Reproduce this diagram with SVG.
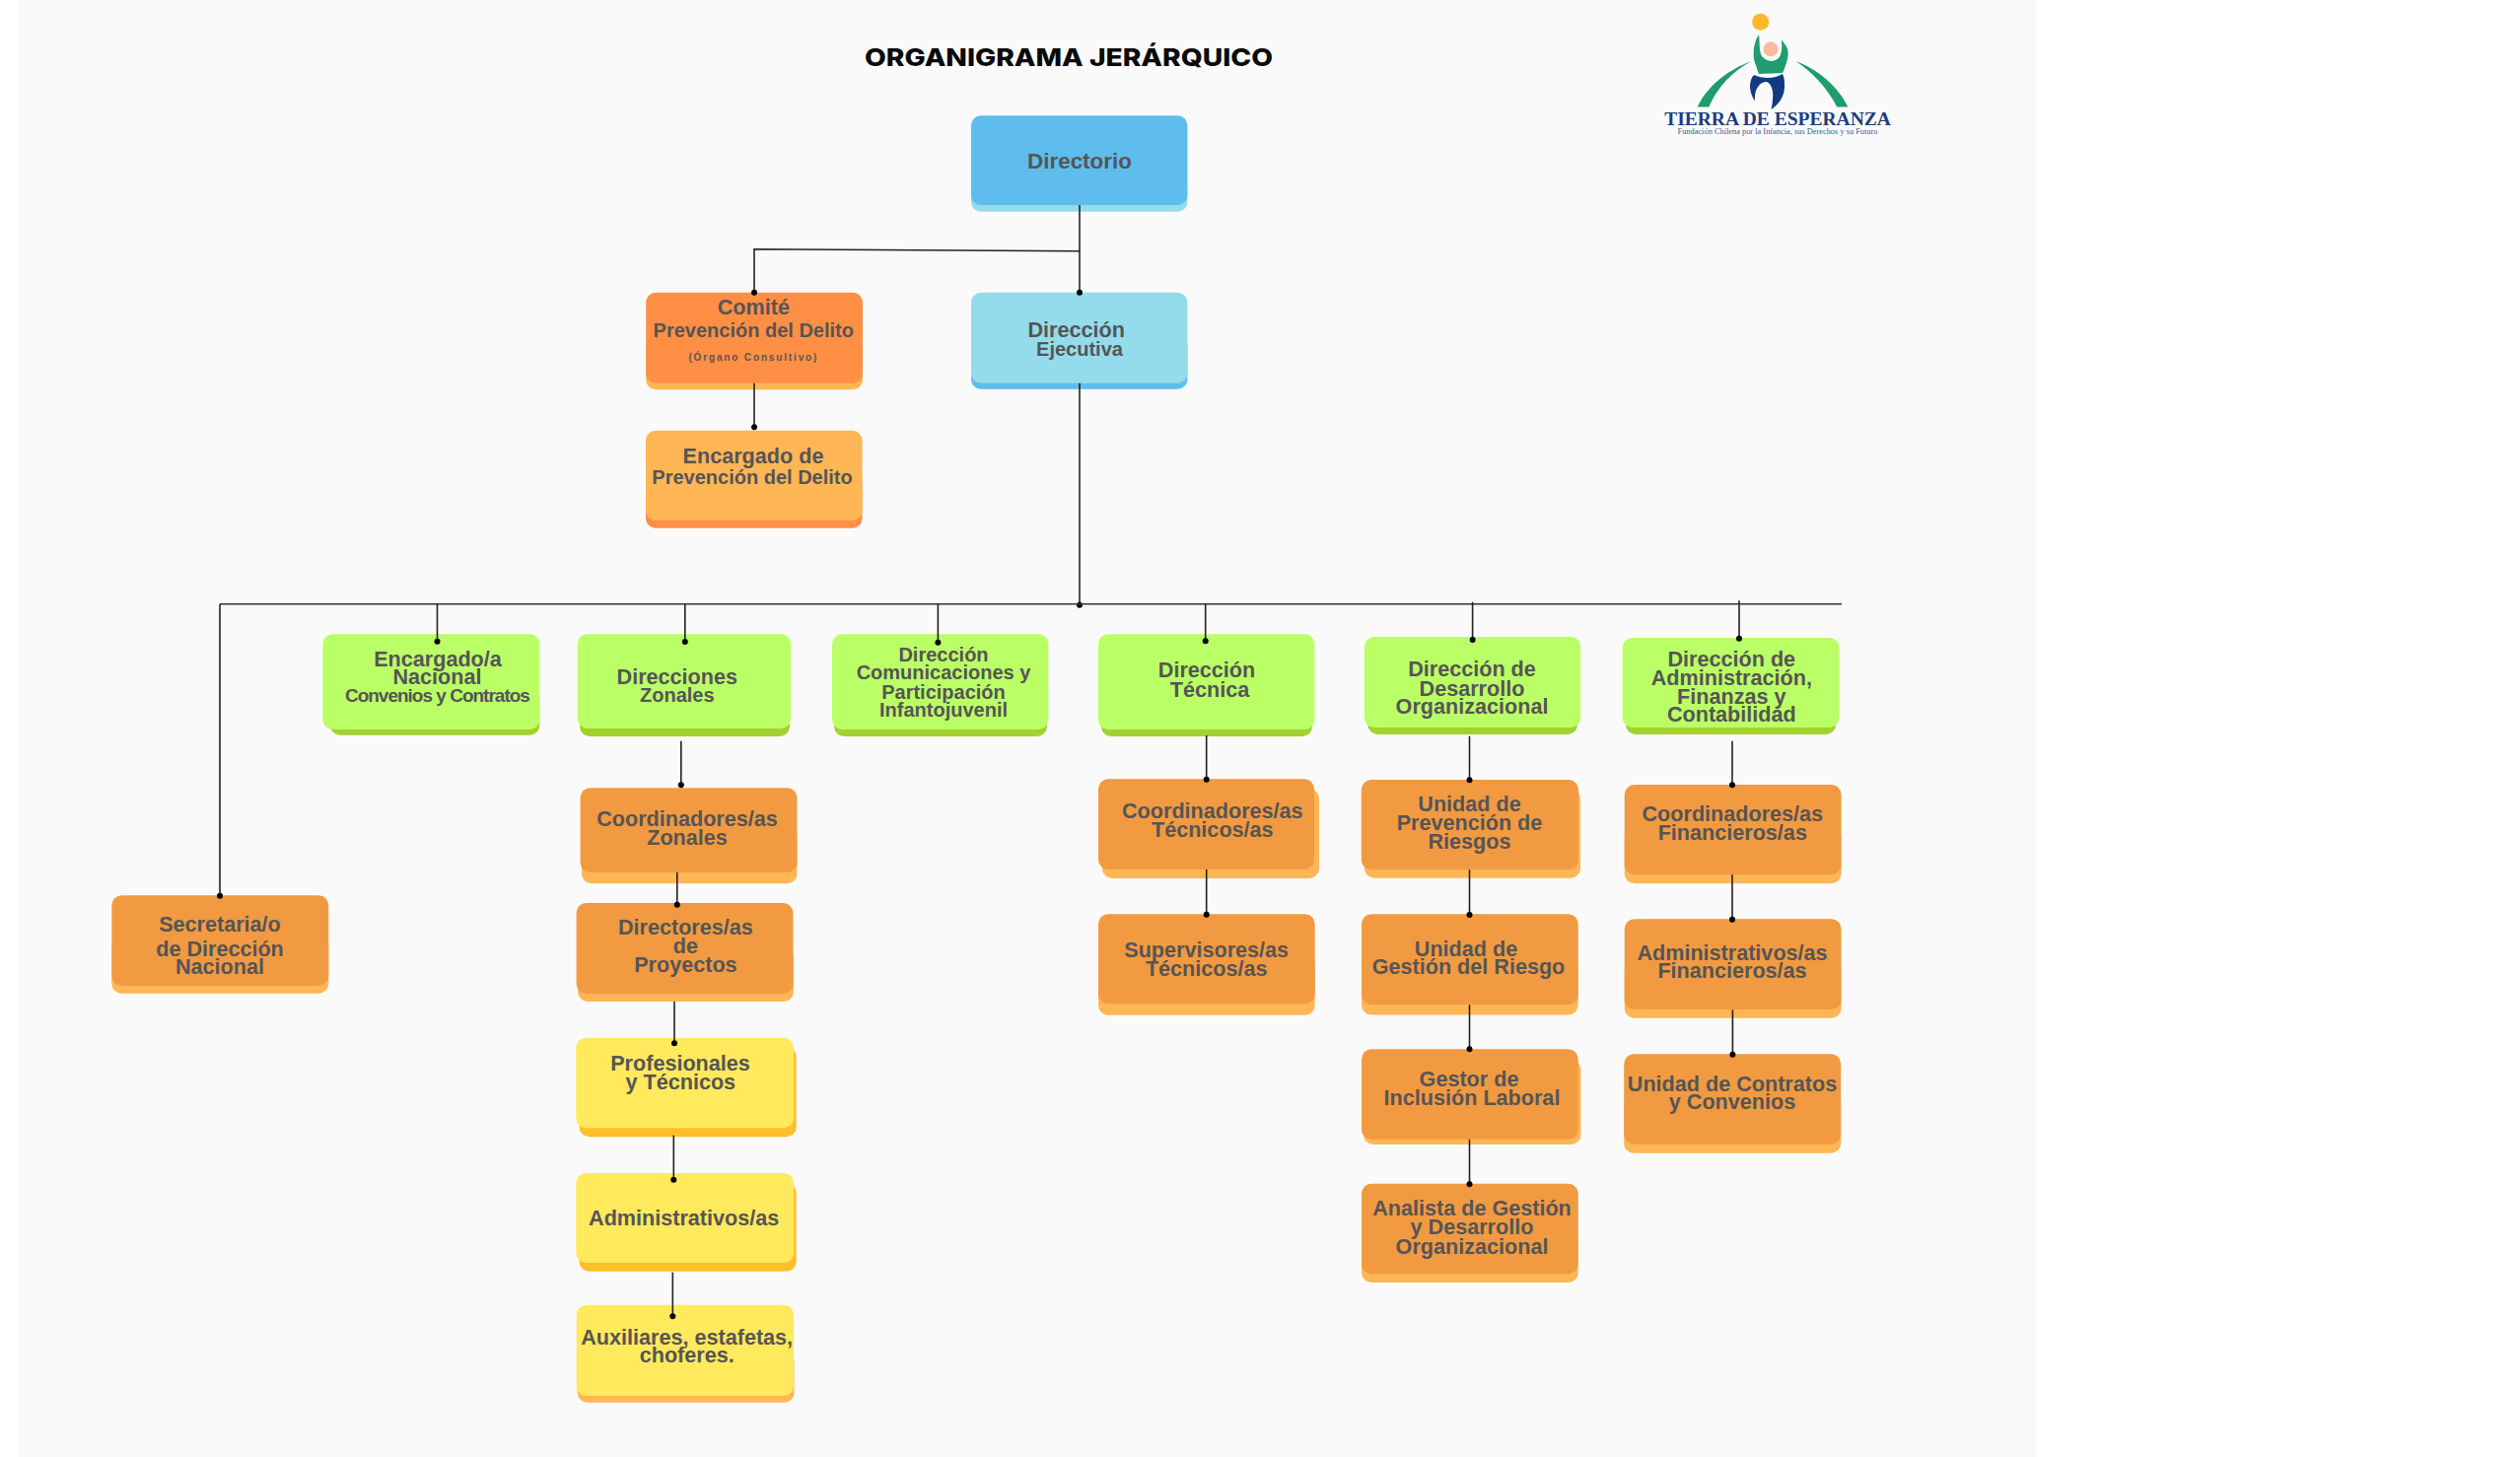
<svg xmlns="http://www.w3.org/2000/svg" width="2556" height="1478" viewBox="0 0 2556 1478">
<style>
text{font-family:"Liberation Sans",Arial,sans-serif;font-weight:700;fill:#555;text-anchor:middle;font-size:21.6px;transform:translateY(.5px)}
.s20{font-size:20px}
.sky{fill:#5ebdec}.lsky{fill:#94dcec}.red{fill:#ff8f45}.lor{fill:#ffb655}.grn{fill:#bbff66}.dgr{fill:#a3d130}.org{fill:#f29a41}.yel{fill:#ffe95c}.dye{fill:#ffbf2b}
.c{fill:none;stroke:#222;stroke-width:1.6;marker-end:url(#dot)}
.b{fill:none;stroke:#333;stroke-width:1.6}
</style>
<defs>
<marker id="dot" markerUnits="userSpaceOnUse" markerWidth="8" markerHeight="8" refX="4" refY="4" orient="auto"><circle cx="4" cy="4" r="3" fill="#000"/></marker>
</defs>
<rect width="2556" height="1478" fill="#fff"/>
<rect x="18" y="0" width="2047" height="1478" fill="#fafafa"/>
<text id="title" x="1084" y="66.2" textLength="414" lengthAdjust="spacingAndGlyphs" style="font-family:Inter,'Liberation Sans',sans-serif;font-weight:800;font-size:24.5px;fill:#0a0a0a">ORGANIGRAMA JERÁRQUICO</text>
<g id="logo">
<circle cx="1785.7" cy="22.3" r="8.5" fill="#fbb829"/>
<path d="M1721.7 108.5C1733 85 1755 70 1776 62.3C1758 72 1742 88 1733.3 108.5Z" fill="#1f9d6c"/>
<path d="M1821.7 62.3C1843 70 1864 87 1874.3 108.5L1863.3 108.5C1853 89 1838 73 1821.7 62.3Z" fill="#1f9d6c"/>
<path d="M1784 35C1778 44 1777 58 1781 66C1782 70 1783 73 1784 75L1808 74C1812 66 1815 55 1813 50C1812 46 1809 43 1806.7 40.7C1808 48 1807 56 1804 59C1798 64 1791 62 1787 57C1784 52 1785 42 1784 35Z" fill="#1f9d6c"/>
<circle cx="1796" cy="49.7" r="7.5" fill="#f8bc9c"/>
<path d="M1779 76C1775 80 1774 88 1776 94C1777 98 1779 101 1780 102C1779 92 1784 83 1792 83C1797 85 1799 93 1798 100C1798 104 1797 108 1796.5 111C1804 106 1810 98 1810 88C1810 83 1810 79 1808 75C1800 80 1788 80 1779 76Z" fill="#133a80"/>
<text x="1803" y="126.2" style="font-family:'Liberation Serif',serif;font-size:19.5px;fill:#1c3d7c">TIERRA DE ESPERANZA</text>
<text x="1803" y="135.2" textLength="203" lengthAdjust="spacingAndGlyphs" style="font-family:'Liberation Serif',serif;font-weight:400;font-size:7.8px;fill:#3a5a8c">Fundación Chilena por la Infancia, sus Derechos y su Futuro</text>
</g>

<g id="n-directorio"><rect class="lsky" x="985" y="180" width="219.4" height="34.7" rx="10"/><rect class="sky" x="985" y="117.3" width="219.4" height="90.7" rx="10"/><text x="1095" y="170.7" style="font-size:22.4px">Directorio</text></g>
<g id="n-comite"><rect class="lor" x="655.2" y="340" width="219.8" height="55.3" rx="10"/><rect class="red" x="655.2" y="296.7" width="219.8" height="92" rx="10"/><text x="764.3" y="318">Comité</text><text class="s20" x="764.3" y="341.7">Prevención del Delito</text><text x="764.3" y="365" style="font-size:10px;letter-spacing:1.85px">(Órgano Consultivo)</text></g>
<g id="n-ejecutiva"><rect class="sky" x="985" y="340" width="219.4" height="54.7" rx="10"/><rect class="lsky" x="985" y="296.7" width="219.4" height="92" rx="10"/><text x="1091.7" y="341.7">Dirección</text><text class="s20" x="1095" y="360">Ejecutiva</text></g>
<g id="n-encargado"><rect class="red" x="655" y="480" width="219.6" height="55.7" rx="10"/><rect class="lor" x="655" y="436.7" width="219.6" height="91.3" rx="10"/><text x="764" y="469.3">Encargado de</text><text class="s20" x="763" y="490.7">Prevención del Delito</text></g>

<g id="n-secretaria"><rect class="lor" x="113.3" y="950" width="220" height="57.7" rx="10"/><rect class="org" x="113.3" y="908.3" width="220" height="91.7" rx="10"/><text x="223" y="944.7">Secretaria/o</text><text x="223" y="969.3">de Dirección</text><text x="223" y="987.7">Nacional</text></g>
<g id="n-encargado-nac"><rect class="dgr" x="335" y="700" width="212.3" height="45.7" rx="10"/><rect class="grn" x="327.4" y="643.3" width="219.9" height="96.7" rx="10"/><text x="444" y="675">Encargado/a</text><text x="443.4" y="693.3">Nacional</text><text x="443.4" y="711.7" style="font-size:19px;letter-spacing:-1px">Convenios y Contratos</text></g>
<g id="n-zonales"><rect class="dgr" x="588" y="700" width="213" height="47" rx="10"/><rect class="grn" x="585.8" y="643.3" width="216.4" height="95.7" rx="10"/><text x="686.8" y="693.3">Direcciones</text><text class="s20" x="686.8" y="711">Zonales</text></g>
<g id="n-comunicaciones"><rect class="dgr" x="846" y="700" width="216" height="47" rx="10"/><rect class="grn" x="844" y="643.3" width="219.4" height="96.7" rx="10"/><text class="s20" x="957" y="670">Dirección</text><text class="s20" x="957" y="688.7">Comunicaciones y</text><text class="s20" x="957" y="708">Participación</text><text class="s20" x="957" y="726.7">Infantojuvenil</text></g>
<g id="n-tecnica"><rect class="dgr" x="1117" y="700" width="214" height="47" rx="10"/><rect class="grn" x="1114" y="643.3" width="219.4" height="96.7" rx="10"/><text x="1224" y="686.7">Dirección</text><text x="1227" y="706">Técnica</text></g>
<g id="n-desarrollo"><rect class="dgr" x="1387.4" y="700" width="212.6" height="45" rx="10"/><rect class="grn" x="1383.9" y="646" width="219.4" height="92" rx="10"/><text x="1493" y="685.7">Dirección de</text><text x="1493" y="705">Desarrollo</text><text x="1493" y="723.3">Organizacional</text></g>
<g id="n-administracion"><rect class="dgr" x="1649" y="700" width="213" height="45" rx="10"/><rect class="grn" x="1645.6" y="647" width="219.9" height="91" rx="10"/><text x="1756.3" y="675.3">Dirección de</text><text x="1756.3" y="694">Administración,</text><text x="1756.3" y="713.3">Finanzas y</text><text x="1756.3" y="731.7">Contabilidad</text></g>

<g id="n-coord-zon"><rect class="lor" x="590" y="840" width="218.5" height="56.3" rx="10"/><rect class="org" x="588.6" y="799.3" width="219.9" height="85.7" rx="10"/><text x="697" y="837.7">Coordinadores/as</text><text x="697" y="856">Zonales</text></g>
<g id="n-directores"><rect class="lor" x="586" y="960" width="219" height="56" rx="10"/><rect class="org" x="584.6" y="916" width="219.9" height="92" rx="10"/><text x="695.4" y="947.7">Directores/as</text><text x="695.4" y="966">de</text><text x="695.4" y="985.7">Proyectos</text></g>
<g id="n-profesionales"><rect class="dye" x="587.6" y="1062" width="220.1" height="91.3" rx="10"/><rect class="yel" x="584.3" y="1052.7" width="220.7" height="91.6" rx="10"/><text x="690" y="1085">Profesionales</text><text x="690.3" y="1104">y Técnicos</text></g>
<g id="n-administrativos"><rect class="dye" x="587.6" y="1200" width="220.1" height="89.7" rx="10"/><rect class="yel" x="584.3" y="1190" width="220.7" height="91" rx="10"/><text x="693.7" y="1242.3">Administrativos/as</text></g>
<g id="n-auxiliares"><rect class="lor" x="585.7" y="1370" width="219.8" height="52.7" rx="10"/><rect class="yel" x="584.7" y="1323.7" width="220.3" height="92.3" rx="10"/><text x="696.7" y="1363.3">Auxiliares, estafetas,</text><text x="696.7" y="1381.7">choferes.</text></g>

<g id="n-coord-tec"><rect class="lor" x="1118" y="800" width="220" height="91" rx="10"/><rect class="org" x="1114" y="790.3" width="219" height="91.7" rx="10"/><text x="1229.8" y="829">Coordinadores/as</text><text x="1229.8" y="848.3">Técnicos/as</text></g>
<g id="n-supervisores"><rect class="lor" x="1114" y="970" width="219.7" height="59.7" rx="10"/><rect class="org" x="1114" y="927.3" width="219.7" height="91" rx="10"/><text x="1223.7" y="970">Supervisores/as</text><text x="1223.7" y="989.3">Técnicos/as</text></g>

<g id="n-upr"><rect class="lor" x="1384" y="800" width="219" height="90.7" rx="10"/><rect class="org" x="1380.8" y="791" width="220.2" height="91.3" rx="10"/><text x="1490.5" y="822.3">Unidad de</text><text x="1490.5" y="841">Prevención de</text><text x="1490.5" y="860.7">Riesgos</text></g>
<g id="n-ugr"><rect class="lor" x="1381" y="970" width="219.7" height="59.5" rx="10"/><rect class="org" x="1381" y="927.3" width="219.7" height="92" rx="10"/><text x="1487" y="969">Unidad de</text><text x="1489.5" y="987.7">Gestión del Riesgo</text></g>
<g id="n-gestor"><rect class="lor" x="1383" y="1075" width="220.5" height="86" rx="10"/><rect class="org" x="1381" y="1064.3" width="219.7" height="91.4" rx="10"/><text x="1490" y="1101.7">Gestor de</text><text x="1493" y="1120.7">Inclusión Laboral</text></g>
<g id="n-analista"><rect class="lor" x="1381" y="1245" width="219.7" height="56" rx="10"/><rect class="org" x="1381" y="1200.7" width="219.7" height="91.6" rx="10"/><text x="1493" y="1232.7">Analista de Gestión</text><text x="1493" y="1251.7">y Desarrollo</text><text x="1493" y="1271">Organizacional</text></g>

<g id="n-coord-fin"><rect class="lor" x="1647.7" y="840" width="219.9" height="56.3" rx="10"/><rect class="org" x="1647.7" y="796" width="219.9" height="91.3" rx="10"/><text x="1757.3" y="832.7">Coordinadores/as</text><text x="1757.3" y="851">Financieros/as</text></g>
<g id="n-admin-fin"><rect class="lor" x="1647.7" y="975" width="219.9" height="57.7" rx="10"/><rect class="org" x="1647.7" y="932.3" width="219.9" height="91.7" rx="10"/><text x="1757" y="973.3">Administrativos/as</text><text x="1757" y="991.7">Financieros/as</text></g>
<g id="n-contratos"><rect class="lor" x="1647.2" y="1110" width="220" height="59.7" rx="10"/><rect class="org" x="1647.2" y="1069.3" width="220" height="91.4" rx="10"/><text x="1757" y="1106">Unidad de Contratos</text><text x="1757" y="1124.3">y Convenios</text></g>

<g id="connectors">
<path class="c" d="M1095 208V296.7"/>
<path class="c" d="M1095 254.7L765 252.7V296.7"/>
<path class="c" d="M765 388.7V433.3"/>
<path class="c" d="M1095 388.7V613.8"/>
<path class="b" d="M1868 612.7H223"/>
<path class="c" d="M223 612.7V908.7"/>
<path class="c" d="M443.5 612.7V650.7"/>
<path class="c" d="M694.8 612.7V651"/>
<path class="c" d="M951.4 612.7V651.7"/>
<path class="c" d="M1222.7 612.7V650.3"/>
<path class="c" d="M1493.6 610.7V649"/>
<path class="c" d="M1764 609.3V647.7"/>
<path class="c" d="M690.8 751.7V796.3"/>
<path class="c" d="M686.8 885V917.7"/>
<path class="c" d="M684 1016V1058.3"/>
<path class="c" d="M683.3 1151.7V1196.7"/>
<path class="c" d="M682.3 1290.7V1335.3"/>
<path class="c" d="M1223.7 746V790.7"/>
<path class="c" d="M1223.7 882V927.7"/>
<path class="c" d="M1490.5 746.7V791.3"/>
<path class="c" d="M1490.5 882.3V928"/>
<path class="c" d="M1490.5 1019.3V1064.3"/>
<path class="c" d="M1490.5 1155.7V1201.3"/>
<path class="c" d="M1757 751.7V796.3"/>
<path class="c" d="M1757 887.3V932.7"/>
<path class="c" d="M1757.4 1024.3V1069.7"/>
</g>
</svg>
